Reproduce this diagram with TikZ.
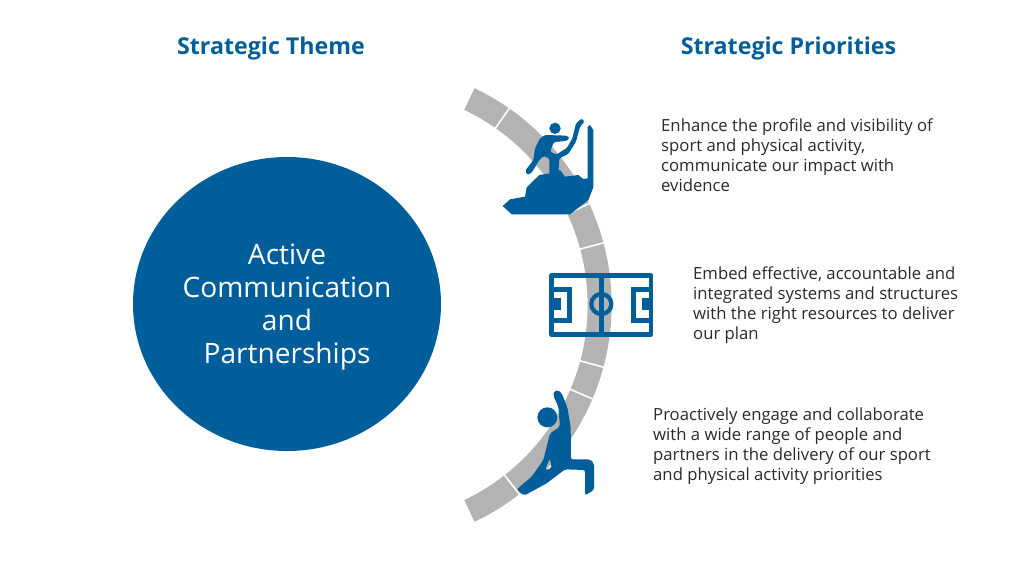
\documentclass[tikz,border=0pt]{standalone}
\usepackage{fontspec}
\usetikzlibrary{shapes.geometric}
\setmainfont{Open Sans}
\definecolor{bluec}{HTML}{005F9B}
\definecolor{grayc}{HTML}{B3B3B3}
\definecolor{textc}{HTML}{2A2A2A}
\tikzset{
  heading/.style={font=\fontsize{23.2}{28}\selectfont\bfseries,text=bluec,inner sep=0pt},
  body/.style={font=\fontsize{16.7}{20}\selectfont,text=textc,align=left,inner sep=0pt,anchor=north west},
  seg/.style={fill=grayc,draw=none},
  sep/.style={draw=white,line width=1.6pt},
  ico/.style={fill=bluec,draw=none}
}
\begin{document}
\begin{tikzpicture}[x=1pt,y=-1pt]
\useasboundingbox (0,0) rectangle (1024,576);
\fill[white] (0,0) rectangle (1024,576);
\node[heading] (theme) at (271,48) {Strategic Theme};
\node[heading] (prio) at (788.5,48) {Strategic Priorities};
\node[ellipse,fill=bluec,minimum width=308pt,minimum height=294pt,inner sep=0pt] (core) at (287,304) {};
\node[text=white,align=center,inner sep=0pt,font=\fontsize{28.1}{33}\selectfont] (corelabel) at (287,307) {Active\\Communication\\and\\Partnerships};
% arc
\coordinate (c) at (371.6,305);
\fill[seg] ([shift={(c)}] -64.6:240pt) arc[start angle=-64.6,end angle=64.6,radius=240pt]
  -- ([shift={(c)}] 64.6:216pt) arc[start angle=64.6,end angle=-64.6,radius=216pt] -- cycle;
\foreach \a in {55,25,15,-15,-23,-52}{
  \draw[sep] ([shift={(c)}] \a:215pt) -- ([shift={(c)}] \a:241pt);
}
% climber icon
\begin{scope}[shift={(450,80)},scale=1/3]
\fill[ico] (158,378) -- (180,358) -- (225,350) -- (230,322) -- (268,285) -- (300,280) -- (330,270) -- (345,290) -- (385,285) -- (400,297) -- (413,295) -- (413,140) -- (420,135) -- (430,150) -- (430,322) -- (415,360) -- (360,403) -- (185,403) -- cycle;
\fill[ico] (315,145) circle (17);
\fill[ico,rounded corners=1.5pt] (285,165) -- (352,167) -- (359,176) -- (348,183) -- (312,186) -- (300,215) -- (320,224) -- (335,213) -- (350,205) -- (367,175) -- (378,130) -- (395,115) -- (404,125) -- (390,140) -- (378,185) -- (355,222) -- (328,235) -- (325,285) -- (298,285) -- (298,235) -- (280,228) -- (268,240) -- (245,278) -- (232,285) -- (226,272) -- (250,240) -- (255,205) -- (270,175) -- cycle;
\end{scope}
% pitch icon
\begin{scope}[shift={(530,230)},scale=1/3]
\draw[draw=bluec,line width=4.8pt,line join=round] (65,137) rectangle (363,313);
\draw[draw=bluec,line width=4.4pt] (214,137) -- (214,313);
\draw[draw=bluec,line width=4.2pt] (214,222) circle (30);
\draw[draw=bluec,line width=4.4pt] (65,178) -- (119,178) -- (119,272) -- (65,272);
\draw[draw=bluec,line width=4.4pt] (363,178) -- (310,178) -- (310,272) -- (363,272);
\fill[ico] (65,204) rectangle (92,240);
\fill[ico] (363,204) rectangle (337,240);
\end{scope}
% stretching figure icon
\begin{scope}[shift={(450,370)},scale=1/3]
\fill[ico] (292,142) circle (30);
\fill[ico,even odd rule,rounded corners=2pt] (309,75) -- (313,63) -- (325,60) -- (335,70) -- (352,112) -- (362,170) -- (363,268) -- (420,268) -- (432,280) -- (432,360) -- (405,376) -- (405,300) -- (345,298) -- (290,340) -- (222,377) -- (200,358) -- (245,320) -- (280,270) -- (300,190) -- (330,170) -- (325,110) -- cycle
 (285,300) -- (300,265) -- (305,295) -- cycle;
\end{scope}
\node[body] (p1) at (661,119) {Enhance the profile and visibility of\\sport and physical activity,\\communicate our impact with\\evidence};
\node[body] (p2) at (693,267) {Embed effective, accountable and\\integrated systems and structures\\with the right resources to deliver\\our plan};
\node[body] (p3) at (653,407.5) {Proactively engage and collaborate\\with a wide range of people and\\partners in the delivery of our sport\\and physical activity priorities};
\end{tikzpicture}
\end{document}
